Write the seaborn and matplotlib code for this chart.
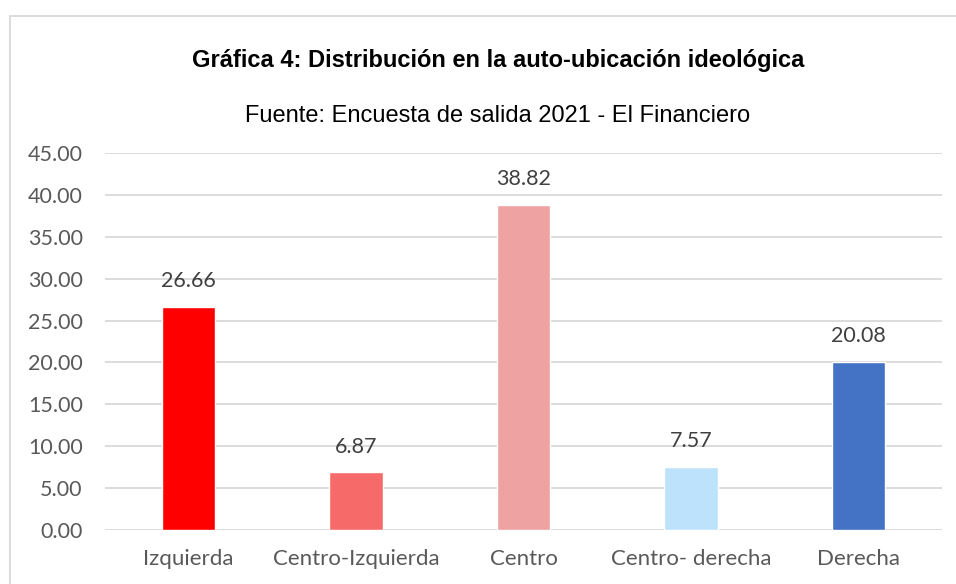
import matplotlib.pyplot as plt
import seaborn as sns
import pandas as pd
from matplotlib.patches import Rectangle

# data
categorias = ['Izquierda', 'Centro-Izquierda', 'Centro', 'Centro- derecha', 'Derecha']
porcentajes = [26.66, 6.87, 38.82, 7.57, 20.08]
colores = ['#FF0000', '#F76A6A', '#EEA2A2', '#BDE3FC', '#4472C4']
yticks = [0, 5, 10, 15, 20, 25, 30, 35, 40, 45]

df = pd.DataFrame({'categoria': categorias, 'valor': porcentajes})

sns.set_theme(style='white')
plt.rcParams['font.family'] = ['Lato', 'DejaVu Sans']

fig = plt.figure(figsize=(9.56, 5.84), dpi=100)
ax = fig.add_axes([105 / 956, 1 - 530 / 584, 837 / 956, 377 / 584])

sns.barplot(data=df, x='categoria', y='valor', hue='categoria',
            palette=colores, legend=False, width=0.32, saturation=1, ax=ax)

ax.set_ylim(0, 45)
ax.set_xlim(-0.5, len(categorias) - 0.5)
ax.set_yticks(yticks)
ax.set_yticklabels([f'{v:.2f}' for v in yticks])
ax.yaxis.grid(True, color='#D9D9D9', linewidth=1.3)
ax.set_axisbelow(True)
for s in ax.spines.values():
    s.set_visible(False)
ax.tick_params(axis='y', length=0, pad=16, labelsize=15.5, labelcolor='#595959')
ax.tick_params(axis='x', length=0, pad=14, labelsize=16, labelcolor='#595959')
ax.set_xlabel('')
ax.set_ylabel('')

for i, v in enumerate(porcentajes):
    ax.annotate(f'{v:.2f}', (i, v), xytext=(0, 11), textcoords='offset points',
                ha='center', va='bottom', fontsize=15.5, color='#404040')

fig.text(498 / 956, 1 - 60 / 584,
         'Gráfica 4: Distribución en la auto-ubicación ideológica',
         ha='center', va='center', fontsize=17, fontweight='bold',
         family='Liberation Sans', color='black')
fig.text(498 / 956, 1 - 116 / 584,
         'Fuente: Encuesta de salida 2021 - El Financiero',
         ha='center', va='center', fontsize=17, family='Liberation Sans',
         color='black')

# outer chart frame (cut off on the right and bottom in the reference)
fig.patches.append(Rectangle((10 / 956, -0.1), 1.2, 1 - 16 / 584 + 0.1,
                             transform=fig.transFigure, fill=False,
                             edgecolor='#D9D9D9', linewidth=1.3))

fig.savefig('out.png', dpi=100)
